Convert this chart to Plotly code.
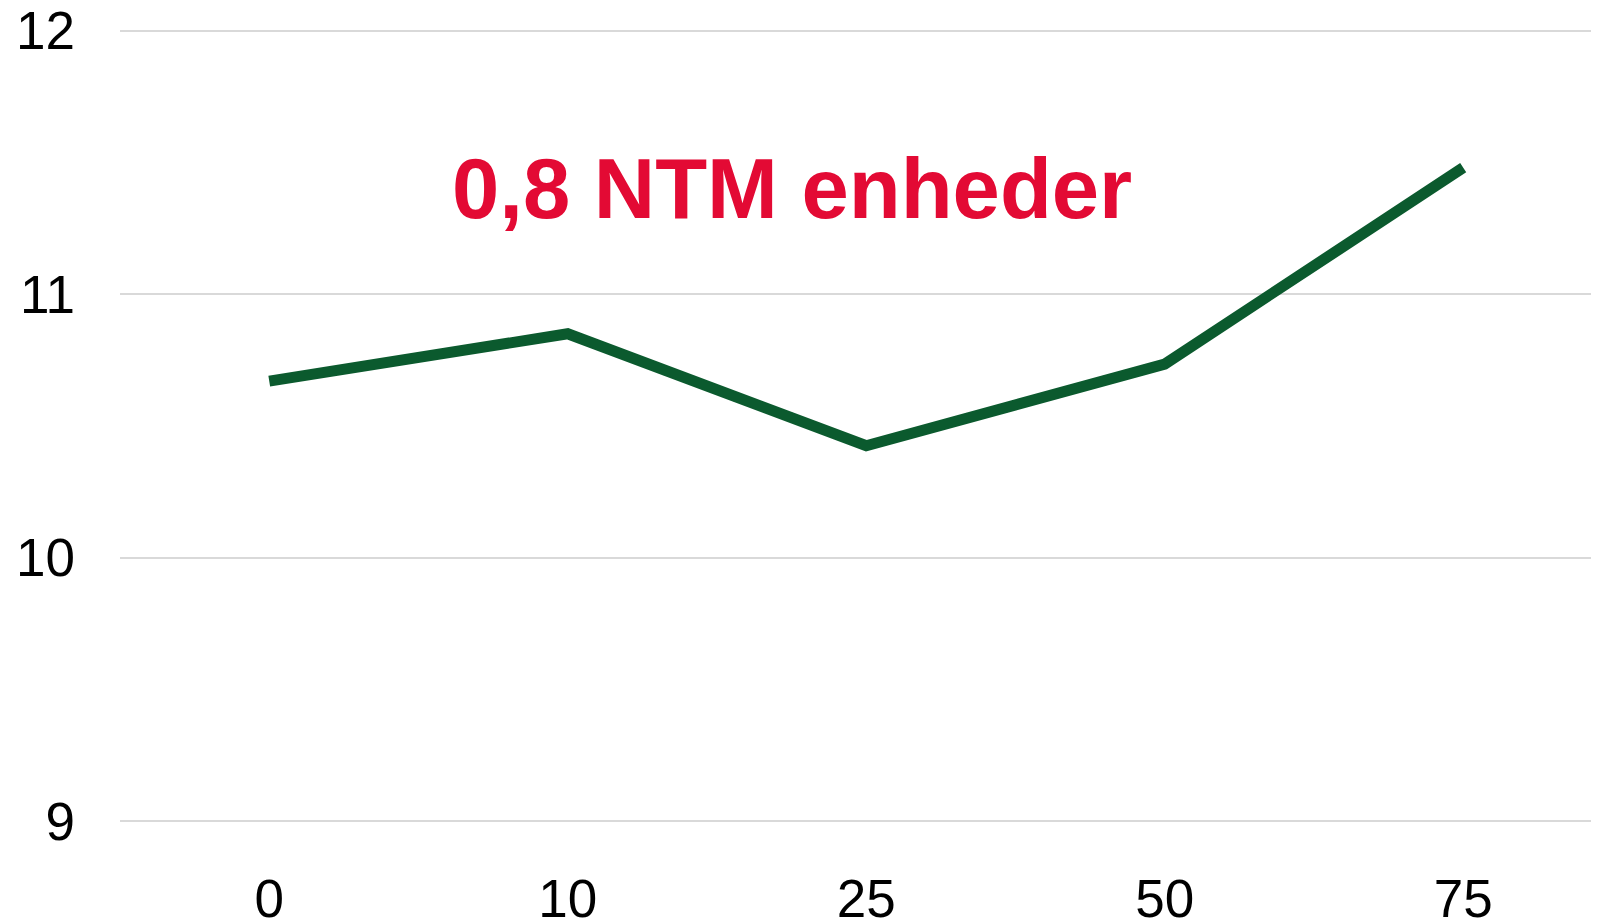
import plotly.graph_objects as go

# categories and series
categories = ["0", "10", "25", "50", "75"]
values = [10.67, 10.85, 10.425, 10.735, 11.48]
y_ticks = [9, 10, 11, 12]
label_text = "0,8 NTM enheder"

fig = go.Figure()

fig.add_trace(go.Scatter(
    x=categories,
    y=values,
    mode="lines",
    line=dict(color="#0B5A2E", width=11),
    hoverinfo="skip",
))

# red label above the line
fig.add_annotation(
    x=1.75, y=11.40,
    xref="x", yref="y",
    text="<b>" + label_text + "</b>",
    showarrow=False,
    font=dict(family="Liberation Sans, Arial", size=85, color="#E30A34"),
    xanchor="center", yanchor="middle",
)

# page body has an 8px margin, so the figure is a bit smaller and offset
fig.update_layout(
    width=1591, height=913,
    margin=dict(l=112, r=0, t=20, b=97),
    plot_bgcolor="white",
    paper_bgcolor="white",
    showlegend=False,
    font=dict(family="Liberation Sans, Arial", size=53, color="#000000"),
)

fig.update_xaxes(
    type="category",
    range=[-0.5, 4.455],
    showgrid=False,
    showline=False,
    zeroline=False,
    ticks="",
    automargin=False,
    ticklabelstandoff=39,
    ticklabeloverflow="allow",
    tickfont=dict(size=53),
)

fig.update_yaxes(
    range=[8.99, 12.01],
    tickvals=y_ticks,
    showgrid=True,
    gridcolor="#D9D9D9",
    gridwidth=2,
    zeroline=False,
    showline=False,
    ticks="",
    automargin=False,
    ticklabelstandoff=44,
    ticklabeloverflow="allow",
    tickfont=dict(size=53),
)

fig.write_html("out.html")
